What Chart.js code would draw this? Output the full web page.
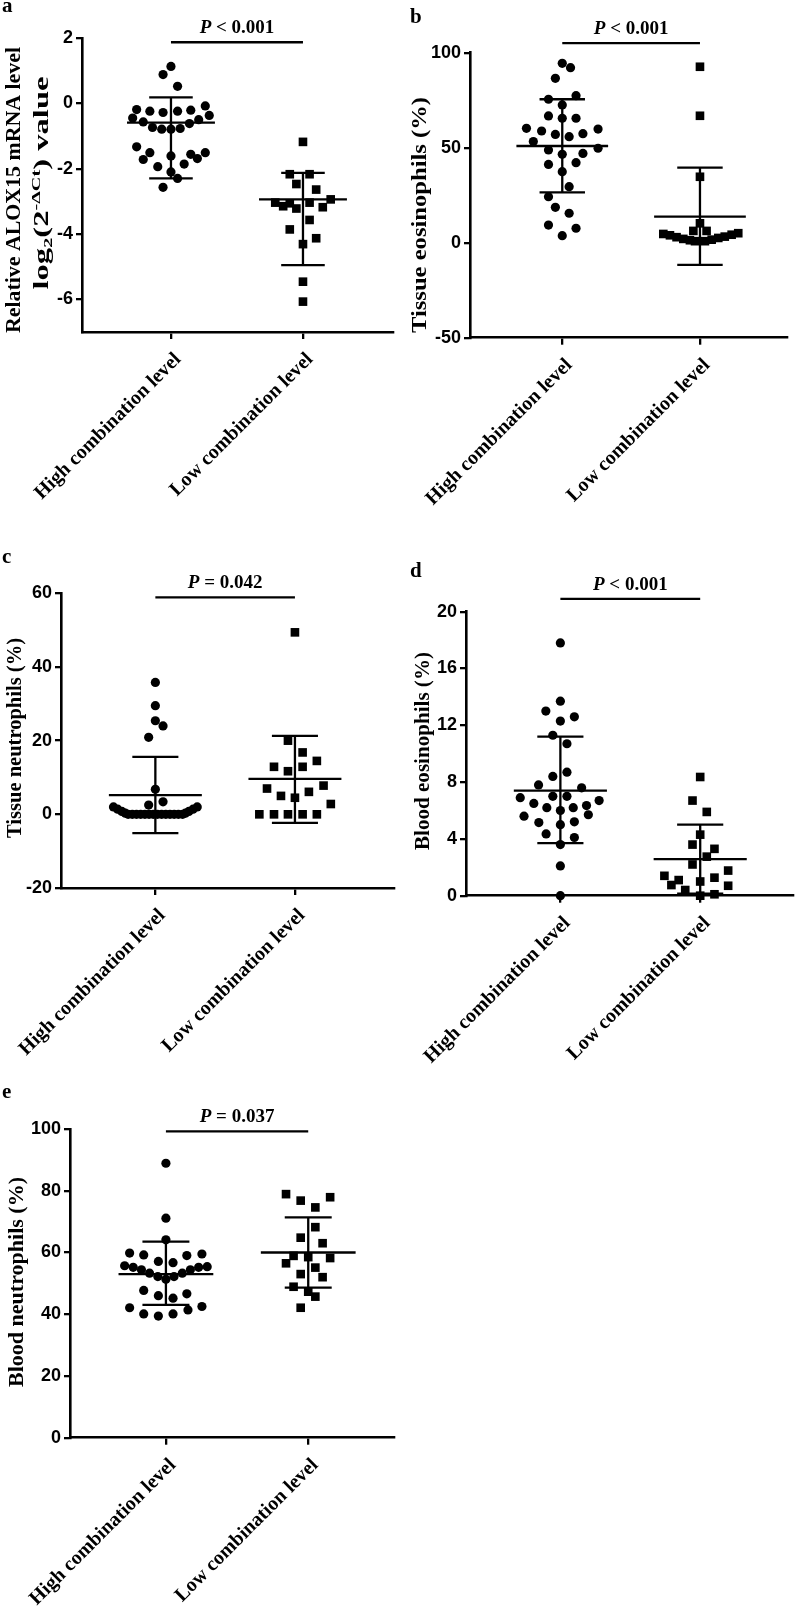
<!DOCTYPE html>
<html>
<head>
<meta charset="utf-8">
<title>Combination level scatter plots</title>
<script src="https://cdn.jsdelivr.net/npm/chart.js@4.4.1/dist/chart.umd.min.js"></script>
<style>
  html, body { margin: 0; padding: 0; background: #fff; }
  body { position: relative; width: 799px; height: 1613px; overflow: hidden; }
  canvas { position: absolute; }
</style>
</head>
<body>
<canvas id="chartA" width="400" height="540" style="left:0;top:0"></canvas>
<canvas id="chartB" width="399" height="540" style="left:400px;top:0"></canvas>
<canvas id="chartC" width="400" height="560" style="left:0;top:540px"></canvas>
<canvas id="chartD" width="399" height="560" style="left:400px;top:540px"></canvas>
<canvas id="chartE" width="400" height="563" style="left:0;top:1050px"></canvas>
<script>
const groups = ['High combination level', 'Low combination level'];

// a - relative ALOX15 mRNA, log2(2^-dCt)
const aTicks = [2, 0, -2, -4, -6];
const aHigh = [1.13, 0.88, 0.52, -0.19, -0.24, -0.28, -0.24, -0.21, -0.08, -0.45, -0.57, -0.74, -0.79, -0.79, -0.77,
  -0.62, -0.50, -0.37, -1.33, -1.51, -1.72, -1.61, -1.56, -1.69, -1.51, -1.86, -1.94, -2.10, -2.30, -2.57];
const aHighJitter = [0, -0.06, 0.05, -0.26, -0.16, -0.06, 0.05, 0.15, 0.26, -0.29, -0.21, -0.14, -0.07, 0, 0.07,
  0.14, 0.21, 0.29, -0.26, -0.16, -0.21, 0, 0.15, 0.2, 0.26, 0.1, -0.1, 0, 0.05, -0.06];
const aLow = [-1.18, -2.17, -2.17, -2.47, -2.64, -3.04, -3.15, -3.06, -3.22, -3.04, -3.18, -2.94, -3.57, -3.86,
  -4.13, -4.31, -5.46, -6.07];
const aLowJitter = [0, -0.1, 0.05, -0.05, 0.1, -0.21, -0.15, -0.1, -0.05, 0.05, 0.15, 0.21, 0.05, -0.1, 0.1, 0, 0, 0];
const aMean = [-0.59, -2.94];
const aSdTop = [0.18, -2.13];
const aSdBottom = [-2.30, -4.95];
const aBar = 1.87;
const aP = '< 0.001';

// b - tissue eosinophils (%)
const bTicks = [100, 50, 0, -50];
const bHigh = [94.4, 92.1, 86.5, 77.4, 75.5, 72.5, 66.7, 65.5, 65.5, 60.2, 58.8, 57.0, 55.8, 57.4, 59.8, 53.2, 48.8,
  46.5, 47.0, 49.7, 41.2, 42.1, 37.4, 29.5, 24.2, 18.6, 15.5, 9.3, 7.6, 3.7];
const bHighJitter = [0, 0.06, -0.05, 0.1, -0.1, 0, -0.1, 0, 0.1, -0.26, -0.15, -0.05, 0.05, 0.15, 0.26, -0.21, -0.1,
  0, 0.15, 0.26, -0.1, 0.1, 0, 0.05, -0.1, -0.05, 0.05, -0.1, 0.1, 0];
const bLow = [92.6, 66.8, 34.7, 10.2, 4.6, 3.9, 2.9, 2.0, 1.3, 0.8, 6.2, 0.8, 6.2, 1.6, 2.5, 3.2, 4.2, 5.0];
const bLowJitter = [0, 0, 0, 0, -0.266, -0.218, -0.17, -0.121, -0.073, -0.036, -0.048, 0.036, 0.048, 0.085, 0.133,
  0.18, 0.23, 0.278];
const bMean = [50.9, 13.7];
const bSdTop = [75.5, 39.5];
const bSdBottom = [26.5, -11.7];
const bBar = 105;
const bP = '< 0.001';

// c - tissue neutrophils (%)
const cTicks = [60, 40, 20, 0, -20];
const cHigh = [35.8, 29.5, 25.4, 24.0, 20.9, 6.8, 3.4, 2.5, 2.0, 1.4, 0.8, 0.3, 0, 0, 0, 0, 0, 0, 0, 0, 0, 0, 0, 0,
  0, 0, 0.3, 0.8, 1.4, 2.0];
const cHighJitter = [0, 0, 0, 0.055, -0.048, 0, 0.055, -0.048, -0.30, -0.27, -0.24, -0.215, -0.195, -0.165, -0.135,
  -0.105, -0.075, -0.045, -0.015, 0.015, 0.045, 0.075, 0.105, 0.135, 0.165, 0.195, 0.215, 0.24, 0.27, 0.30];
const cLow = [49.4, 20.0, 16.8, 12.9, 11.7, 12.9, 14.5, 7.0, 5.0, 4.5, 6.1, 7.8, 2.8, 0, 0, 0, 0, 0];
const cLowJitter = [0, -0.05, 0.055, -0.15, -0.05, 0.055, 0.157, -0.2, -0.1, 0, 0.1, 0.205, 0.257, -0.255, -0.15,
  -0.05, 0.055, 0.157];
const cMean = [5.2, 9.6];
const cSdTop = [15.6, 21.3];
const cSdBottom = [-5.1, -2.3];
const cBar = 58.9;
const cP = '= 0.042';

// d - blood eosinophils (%)
const dTicks = [20, 16, 12, 8, 4, 0];
const dHigh = [17.8, 13.7, 13.0, 12.3, 12.6, 11.3, 10.7, 8.7, 8.4, 7.8, 7.6, 6.9, 7.0, 7.0, 6.7, 6.5, 6.2, 6.0, 6.2,
  6.35, 5.7, 5.6, 5.15, 5.0, 5.2, 4.35, 4.1, 3.6, 2.1, 0];
const dHighJitter = [0, 0, -0.104, 0, 0.1, -0.054, 0.047, 0.047, -0.054, -0.156, 0.152, -0.287, -0.054, 0.047, 0.277,
  -0.19, -0.097, 0, 0.092, 0.187, 0.2, -0.26, -0.154, 0, 0.1, -0.102, 0.1, 0, 0, 0];
const dLow = [8.36, 6.7, 5.9, 4.3, 3.6, 3.3, 2.75, 2.2, 1.77, 1.4, 1.1, 0.75, 1.27, 1.0, 0.7, 0.4, 0.1, 0];
const dLowJitter = [0, -0.055, 0.047, 0, -0.055, 0.102, 0.047, -0.055, 0.2, -0.256, -0.154, -0.206, 0.102, 0, 0.2,
  -0.107, 0.102, 0];
const dMean = [7.4, 2.57];
const dSdTop = [11.2, 5.0];
const dSdBottom = [3.7, 0.14];
const dBar = 20.9;
const dP = '< 0.001';

// e - blood neutrophils (%)
const eTicks = [100, 80, 60, 40, 20, 0];
const eHigh = [88.9, 71.1, 64.1, 59.8, 59.2, 57.1, 56.7, 59.0, 59.5, 55.7, 55.2, 54.4, 53.3, 52.2, 51.3, 52.2, 53.3,
  54.4, 55.2, 55.4, 47.7, 46.0, 45.2, 46.6, 42.1, 40.1, 39.4, 40.1, 41.4, 42.5];
const eHighJitter = [0, 0, 0, -0.255, -0.156, -0.053, 0.05, 0.147, 0.253, -0.29, -0.23, -0.172, -0.115, -0.057, 0,
  0.057, 0.115, 0.172, 0.23, 0.29, -0.156, -0.053, 0.05, 0.147, -0.255, -0.156, -0.053, 0.05, 0.155, 0.253];
const eLow = [78.9, 76.8, 77.9, 74.6, 68.2, 64.8, 63.0, 58.9, 58.5, 58.2, 56.5, 55.1, 53.0, 52.0, 48.9, 47.3, 45.7, 42.1];
const eLowJitter = [-0.156, -0.053, 0.154, 0.05, 0.05, -0.053, 0.101, -0.103, 0, 0.154, -0.156, 0.05, -0.053, 0.101,
  -0.103, 0, 0.05, -0.053];
const eMean = [53.0, 60.0];
const eSdTop = [63.5, 71.4];
const eSdBottom = [43.0, 48.6];
const eBar = 99.2;
const eP = '= 0.037';

// text helpers (runs allow italic P and sub/superscripts)
function runFont(r, size) {
  const s = (r.sup || r.sub) ? size * 0.62 : size;
  return (r.italic ? 'italic ' : '') + 'bold ' + s + 'px "Liberation Serif", "Times New Roman", serif';
}
function runsWidth(ctx, runs, size) {
  let w = 0;
  runs.forEach(r => { ctx.font = runFont(r, size); w += ctx.measureText(r.t).width; });
  return w;
}
function drawRuns(ctx, runs, x, y, size) {
  runs.forEach(r => {
    ctx.font = runFont(r, size);
    const dy = r.sup ? -size * 0.42 : (r.sub ? size * 0.22 : 0);
    ctx.fillText(r.t, x, y + dy);
    x += ctx.measureText(r.t).width;
  });
}

const decor = {
  id: 'decor',
  afterDraw(chart, args, o) {
    const ctx = chart.ctx;
    ctx.save();
    ctx.fillStyle = '#000';
    ctx.textAlign = 'left';
    ctx.textBaseline = 'alphabetic';

    // panel letter
    ctx.font = 'bold 21px "Liberation Serif", serif';
    ctx.fillText(o.letter, o.letterAt[0], o.letterAt[1]);

    // p value above the comparison bar
    const pRuns = [{t: 'P', italic: true}, {t: ' ' + o.p}];
    const px = chart.scales.x.getPixelForValue(1.5);
    const py = chart.scales.y.getPixelForValue(o.bar) - 9;
    drawRuns(ctx, pRuns, px - runsWidth(ctx, pRuns, 19) / 2, py, 19);

    // y axis title lines
    o.titles.forEach(t => {
      const w = runsWidth(ctx, t.runs, 20);
      ctx.save();
      ctx.translate(t.x, t.y);
      ctx.rotate(-Math.PI / 2);
      ctx.scale(t.len / w, 1);
      drawRuns(ctx, t.runs, -w / 2, 7, 20);
      ctx.restore();
    });
    ctx.restore();
  }
};

function dots(ys, jitter, center, style, radius) {
  return {
    data: ys.map((y, i) => ({x: center + jitter[i], y: y})),
    pointStyle: style, pointRadius: radius, pointHoverRadius: radius,
    backgroundColor: '#000', borderWidth: 0, showLine: false, clip: false
  };
}
function segment(x1, y1, x2, y2) {
  return {
    data: [{x: x1, y: y1}, {x: x2, y: y2}],
    showLine: true, borderColor: '#000', borderWidth: 2.3, pointRadius: 0, pointHoverRadius: 0, clip: false
  };
}
function meanSd(mean, top, bottom) {
  const sets = [];
  [1, 2].forEach((c, i) => {
    sets.push(segment(c - 0.333, mean[i], c + 0.333, mean[i]));
    sets.push(segment(c - 0.165, top[i], c + 0.165, top[i]));
    sets.push(segment(c - 0.165, bottom[i], c + 0.165, bottom[i]));
    sets.push(segment(c, bottom[i], c, top[i]));
  });
  return sets;
}

function panel(id, p) {
  const el = document.getElementById(id);
  const W = el.width, H = el.height;
  return new Chart(el, {
    type: 'scatter',
    data: {
      datasets: [
        dots(p.high, p.highJitter, 1, 'circle', 4.6),
        dots(p.low, p.lowJitter, 2, 'rect', 6.1),
        ...meanSd(p.mean, p.top, p.bottom),
        segment(1, p.bar, 2, p.bar)
      ]
    },
    options: {
      responsive: false,
      animation: false,
      events: [],
      layout: { padding: { left: 0, top: p.area.top, right: W - p.area.right, bottom: 0 } },
      plugins: {
        legend: { display: false },
        tooltip: { enabled: false },
        decor: { letter: p.letter, letterAt: p.letterAt, p: p.p, bar: p.bar, titles: p.titles }
      },
      scales: {
        x: {
          type: 'linear', min: p.xMin, max: p.xMax,
          afterBuildTicks: s => { s.ticks = [{value: 1}, {value: 2}]; },
          ticks: {
            autoSkip: false, minRotation: 45, maxRotation: 45, padding: 9, labelOffset: 7,
            color: '#000', font: { family: 'Liberation Serif', size: 20, weight: 'bold' },
            callback: v => groups[v - 1]
          },
          grid: { drawOnChartArea: false, drawTicks: true, tickLength: 7, color: '#000', lineWidth: 2.3 },
          border: { display: true, color: '#000', width: 2.6 },
          afterFit: s => { s.height = H - p.area.bottom; s.paddingLeft = 0; s.paddingRight = 0; }
        },
        y: {
          min: p.yMin, max: p.yMax,
          afterBuildTicks: s => { s.ticks = p.yTicks.map(v => ({value: v})); },
          ticks: {
            padding: 3, color: '#000',
            font: { family: 'Liberation Sans', size: 18, weight: 'bold' },
            callback: v => String(v)
          },
          grid: { drawOnChartArea: false, drawTicks: true, tickLength: 6, color: '#000', lineWidth: 2.3 },
          border: { display: true, color: '#000', width: 2.6 },
          afterFit: s => { s.width = p.area.left; s.paddingTop = 0; s.paddingBottom = 0; }
        }
      }
    },
    plugins: [decor]
  });
}

panel('chartA', {
  letter: 'a', letterAt: [2, 12],
  area: { left: 82, top: 38, right: 393, bottom: 332 },
  xMin: 0.326, xMax: 2.682, yMin: -7, yMax: 2, yTicks: aTicks,
  high: aHigh, highJitter: aHighJitter, low: aLow, lowJitter: aLowJitter,
  mean: aMean, top: aSdTop, bottom: aSdBottom, bar: aBar, p: aP,
  titles: [
    { runs: [{t: 'Relative ALOX15 mRNA level'}], x: 13, y: 190, len: 286 },
    { runs: [{t: 'log'}, {t: '2', sub: true}, {t: '(2'}, {t: '-\u0394Ct', sup: true}, {t: ') value'}], x: 41, y: 183, len: 213 }
  ]
});

panel('chartB', {
  letter: 'b', letterAt: [10, 23],
  area: { left: 70, top: 52.7, right: 387, bottom: 337.7 },
  xMin: 0.330, xMax: 2.632, yMin: -50, yMax: 100, yTicks: bTicks,
  high: bHigh, highJitter: bHighJitter, low: bLow, lowJitter: bLowJitter,
  mean: bMean, top: bSdTop, bottom: bSdBottom, bar: bBar, p: bP,
  titles: [ { runs: [{t: 'Tissue eosinophils (%)'}], x: 19, y: 215, len: 236 } ]
});

panel('chartC', {
  letter: 'c', letterAt: [2, 23],
  area: { left: 61, top: 53.3, right: 395, bottom: 348 },
  xMin: 0.324, xMax: 2.709, yMin: -20, yMax: 60, yTicks: cTicks,
  high: cHigh, highJitter: cHighJitter, low: cLow, lowJitter: cLowJitter,
  mean: cMean, top: cSdTop, bottom: cSdBottom, bar: cBar, p: cP,
  titles: [ { runs: [{t: 'Tissue neutrophils (%)'}], x: 13.5, y: 198, len: 200 } ]
});

panel('chartD', {
  letter: 'd', letterAt: [10, 37],
  area: { left: 66, top: 71.7, right: 395, bottom: 355.7 },
  xMin: 0.325, xMax: 2.663, yMin: 0, yMax: 20, yTicks: dTicks,
  high: dHigh, highJitter: dHighJitter, low: dLow, lowJitter: dLowJitter,
  mean: dMean, top: dSdTop, bottom: dSdBottom, bar: dBar, p: dP,
  titles: [ { runs: [{t: 'Blood eosinophils (%)'}], x: 22, y: 211, len: 198 } ]
});

panel('chartE', {
  letter: 'e', letterAt: [2, 48],
  area: { left: 70, top: 79, right: 400, bottom: 387.7 },
  xMin: 0.326, xMax: 2.602, yMin: 0, yMax: 100, yTicks: eTicks,
  high: eHigh, highJitter: eHighJitter, low: eLow, lowJitter: eLowJitter,
  mean: eMean, top: eSdTop, bottom: eSdBottom, bar: eBar, p: eP,
  titles: [ { runs: [{t: 'Blood neutrophils (%)'}], x: 16, y: 232, len: 210 } ]
});
</script>
</body>
</html>
